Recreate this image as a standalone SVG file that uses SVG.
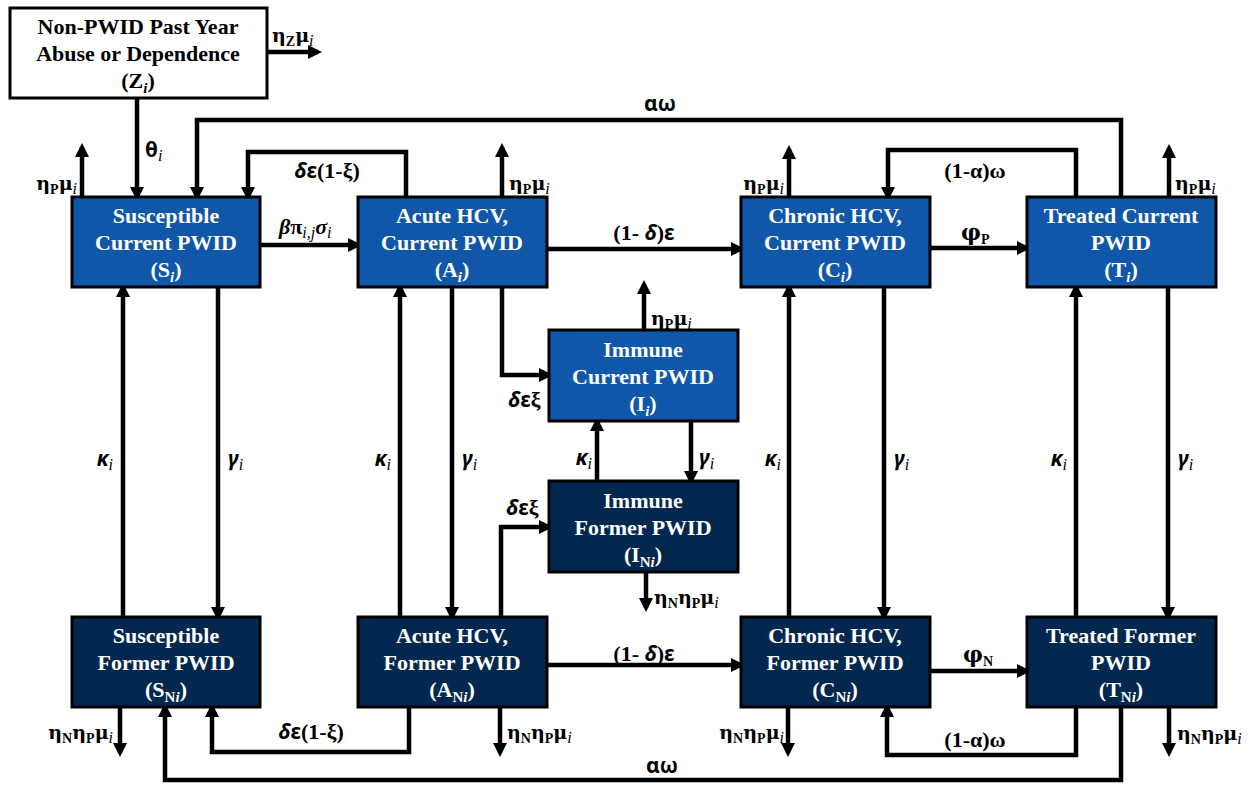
<svg xmlns="http://www.w3.org/2000/svg" width="1253" height="785" viewBox="0 0 1253 785">
<style>
.box{stroke:#000;stroke-width:3}
.cur{fill:#1057A9}
.fmr{fill:#03284F}
.nz{fill:#fff}
.bx{font-family:"Liberation Serif",serif;font-weight:bold;font-size:22px;fill:#fff;text-anchor:middle}
.bz{fill:#000}
.bs{font-size:15px}
.bi{font-size:15px;font-style:italic}
.ln{fill:none;stroke:#000;stroke-width:4.5;marker-end:url(#ah)}
.lb{font-family:"Liberation Serif",serif;font-weight:bold;font-size:22px;fill:#000}
.dv{font-family:"DejaVu Serif","Liberation Serif",serif;font-size:19px}
.ph{font-family:"DejaVu Serif","Liberation Serif",serif;font-size:22px}
.gs{font-family:"Noto Sans","DejaVu Sans",sans-serif;font-weight:bold;font-size:21px}
.it{font-style:italic}
.s{font-size:14px}
.si{font-size:16px;font-style:italic;font-weight:normal}
.m{text-anchor:middle}
.e{text-anchor:end}
</style>
<defs>
<marker id="ah" markerUnits="userSpaceOnUse" markerWidth="14" markerHeight="14" viewBox="0 0 14 14" refX="10" refY="7" orient="auto">
<path d="M0,0 L14,7 L0,14 z" fill="#000"/>
</marker>
</defs>
<rect width="1253" height="785" fill="#fff"/>
<g id="connectors">
<path class="ln" d="M137,98 V197"/>
<path class="ln" d="M267,52 H318"/>
<path class="ln" d="M82,197 V147"/>
<path class="ln" d="M1121,197 V120 H197 V197"/>
<path class="ln" d="M406,197 V152 H248 V197"/>
<path class="ln" d="M260,245 H358"/>
<path class="ln" d="M502,197 V147"/>
<path class="ln" d="M547,249 H741"/>
<path class="ln" d="M502,287 V375 H549"/>
<path class="ln" d="M644,330 V284"/>
<path class="ln" d="M597,481 V421"/>
<path class="ln" d="M691,421 V481"/>
<path class="ln" d="M501,617 V527 H549"/>
<path class="ln" d="M646,572 V608"/>
<path class="ln" d="M789,197 V149"/>
<path class="ln" d="M1076,197 V150 H888 V197"/>
<path class="ln" d="M930,248 H1027"/>
<path class="ln" d="M1169,197 V148"/>
<path class="ln" d="M123,617 V287"/>
<path class="ln" d="M218,287 V617"/>
<path class="ln" d="M400,617 V287"/>
<path class="ln" d="M452,287 V617"/>
<path class="ln" d="M789,617 V287"/>
<path class="ln" d="M884,287 V617"/>
<path class="ln" d="M1076,617 V287"/>
<path class="ln" d="M1168,287 V617"/>
<path class="ln" d="M547,665 H741"/>
<path class="ln" d="M930,671 H1027"/>
<path class="ln" d="M120,707 V753"/>
<path class="ln" d="M409,707 V752 H212 V707"/>
<path class="ln" d="M1121,707 V780 H165 V707"/>
<path class="ln" d="M500,707 V753"/>
<path class="ln" d="M788,707 V753"/>
<path class="ln" d="M1076,707 V755 H887 V707"/>
<path class="ln" d="M1169,707 V753"/>
</g>
<g id="labels">
<text class="lb" x="272" y="42"><tspan class="dv">η</tspan><tspan class="s" dy="4">Z</tspan><tspan class="dv" dy="-4">μ</tspan><tspan class="si" dy="4">i</tspan></text>
<text class="lb" x="145" y="157"><tspan class="gs">θ</tspan><tspan class="si" dy="4">i</tspan></text>
<text class="lb e" x="77" y="190"><tspan class="dv">η</tspan><tspan class="s" dy="4">P</tspan><tspan class="dv" dy="-4">μ</tspan><tspan class="si" dy="4">i</tspan></text>
<text class="lb m gs" x="660" y="111">αω</text>
<text class="lb m" x="327" y="178"><tspan class="gs it">δ</tspan><tspan class="gs">ε</tspan>(1-ξ)</text>
<text class="lb" x="279" y="234"><tspan class="it">β</tspan>π<tspan class="si" dy="4">i,j</tspan><tspan class="it" dy="-4">σ</tspan><tspan class="si" dy="4">i</tspan></text>
<text class="lb" x="509" y="190"><tspan class="dv">η</tspan><tspan class="s" dy="4">P</tspan><tspan class="dv" dy="-4">μ</tspan><tspan class="si" dy="4">i</tspan></text>
<text class="lb m" x="644" y="240">(1- <tspan class="gs it">δ</tspan>)<tspan class="gs">ε</tspan></text>
<text class="lb" x="508" y="407"><tspan class="gs it">δ</tspan><tspan class="gs">ε</tspan>ξ</text>
<text class="lb" x="651" y="325"><tspan class="dv">η</tspan><tspan class="s" dy="4">P</tspan><tspan class="dv" dy="-4">μ</tspan><tspan class="si" dy="4">i</tspan></text>
<text class="lb e" x="592" y="465"><tspan class="gs it">κ</tspan><tspan class="si" dy="4">i</tspan></text>
<text class="lb" x="699" y="465"><tspan class="gs it">γ</tspan><tspan class="si" dy="4">i</tspan></text>
<text class="lb" x="506" y="515"><tspan class="gs it">δ</tspan><tspan class="gs">ε</tspan>ξ</text>
<text class="lb" x="654" y="604"><tspan class="dv">η</tspan><tspan class="s" dy="4">N</tspan><tspan class="dv" dy="-4">η</tspan><tspan class="s" dy="4">P</tspan><tspan class="dv" dy="-4">μ</tspan><tspan class="si" dy="4">i</tspan></text>
<text class="lb e" x="784" y="190"><tspan class="dv">η</tspan><tspan class="s" dy="4">P</tspan><tspan class="dv" dy="-4">μ</tspan><tspan class="si" dy="4">i</tspan></text>
<text class="lb m" x="975" y="178">(1-α)ω</text>
<text class="lb" x="961" y="240"><tspan class="ph">φ</tspan><tspan class="s" dy="4">P</tspan></text>
<text class="lb" x="1175" y="190"><tspan class="dv">η</tspan><tspan class="s" dy="4">P</tspan><tspan class="dv" dy="-4">μ</tspan><tspan class="si" dy="4">i</tspan></text>
<text class="lb e" x="113" y="466"><tspan class="gs it">κ</tspan><tspan class="si" dy="4">i</tspan></text>
<text class="lb" x="228" y="466"><tspan class="gs it">γ</tspan><tspan class="si" dy="4">i</tspan></text>
<text class="lb e" x="391" y="466"><tspan class="gs it">κ</tspan><tspan class="si" dy="4">i</tspan></text>
<text class="lb" x="462" y="466"><tspan class="gs it">γ</tspan><tspan class="si" dy="4">i</tspan></text>
<text class="lb e" x="781" y="466"><tspan class="gs it">κ</tspan><tspan class="si" dy="4">i</tspan></text>
<text class="lb" x="894" y="466"><tspan class="gs it">γ</tspan><tspan class="si" dy="4">i</tspan></text>
<text class="lb e" x="1067" y="466"><tspan class="gs it">κ</tspan><tspan class="si" dy="4">i</tspan></text>
<text class="lb" x="1178" y="466"><tspan class="gs it">γ</tspan><tspan class="si" dy="4">i</tspan></text>
<text class="lb m" x="644" y="661">(1- <tspan class="gs it">δ</tspan>)<tspan class="gs">ε</tspan></text>
<text class="lb" x="963" y="662"><tspan class="ph">φ</tspan><tspan class="s" dy="4">N</tspan></text>
<text class="lb e" x="113" y="739"><tspan class="dv">η</tspan><tspan class="s" dy="4">N</tspan><tspan class="dv" dy="-4">η</tspan><tspan class="s" dy="4">P</tspan><tspan class="dv" dy="-4">μ</tspan><tspan class="si" dy="4">i</tspan></text>
<text class="lb m" x="311" y="739"><tspan class="gs it">δ</tspan><tspan class="gs">ε</tspan>(1-ξ)</text>
<text class="lb m gs" x="662" y="773">αω</text>
<text class="lb" x="507" y="739"><tspan class="dv">η</tspan><tspan class="s" dy="4">N</tspan><tspan class="dv" dy="-4">η</tspan><tspan class="s" dy="4">P</tspan><tspan class="dv" dy="-4">μ</tspan><tspan class="si" dy="4">i</tspan></text>
<text class="lb e" x="784" y="739"><tspan class="dv">η</tspan><tspan class="s" dy="4">N</tspan><tspan class="dv" dy="-4">η</tspan><tspan class="s" dy="4">P</tspan><tspan class="dv" dy="-4">μ</tspan><tspan class="si" dy="4">i</tspan></text>
<text class="lb m" x="975" y="747">(1-α)ω</text>
<text class="lb" x="1177" y="740"><tspan class="dv">η</tspan><tspan class="s" dy="4">N</tspan><tspan class="dv" dy="-4">η</tspan><tspan class="s" dy="4">P</tspan><tspan class="dv" dy="-4">μ</tspan><tspan class="si" dy="4">i</tspan></text>
</g>
<g id="node-Z">
<rect class="box nz" x="10" y="8" width="257" height="90"/>
<text class="bx bz" x="138" y="34">Non-PWID Past Year</text>
<text class="bx bz" x="138" y="61">Abuse or Dependence</text>
<text class="bx bz" x="138" y="88">(Z<tspan class="bi" dy="5">i</tspan><tspan dy="-5">)</tspan></text>
</g>
<g id="node-S">
<rect class="box cur" x="72" y="197" width="188" height="90"/>
<text class="bx" x="166" y="223">Susceptible</text>
<text class="bx" x="166" y="250">Current PWID</text>
<text class="bx" x="166" y="277">(S<tspan class="bi" dy="5">i</tspan><tspan dy="-5">)</tspan></text>
</g>
<g id="node-A">
<rect class="box cur" x="358" y="197" width="189" height="90"/>
<text class="bx" x="452" y="223">Acute HCV,</text>
<text class="bx" x="452" y="250">Current PWID</text>
<text class="bx" x="452" y="277">(A<tspan class="bi" dy="5">i</tspan><tspan dy="-5">)</tspan></text>
</g>
<g id="node-C">
<rect class="box cur" x="741" y="197" width="189" height="90"/>
<text class="bx" x="835" y="223">Chronic HCV,</text>
<text class="bx" x="835" y="250">Current PWID</text>
<text class="bx" x="835" y="277">(C<tspan class="bi" dy="5">i</tspan><tspan dy="-5">)</tspan></text>
</g>
<g id="node-T">
<rect class="box cur" x="1027" y="197" width="189" height="90"/>
<text class="bx" x="1121" y="223">Treated Current</text>
<text class="bx" x="1121" y="250">PWID</text>
<text class="bx" x="1121" y="277">(T<tspan class="bi" dy="5">i</tspan><tspan dy="-5">)</tspan></text>
</g>
<g id="node-I">
<rect class="box cur" x="549" y="330" width="189" height="91"/>
<text class="bx" x="643" y="357">Immune</text>
<text class="bx" x="643" y="384">Current PWID</text>
<text class="bx" x="643" y="411">(I<tspan class="bi" dy="5">i</tspan><tspan dy="-5">)</tspan></text>
</g>
<g id="node-IN">
<rect class="box fmr" x="549" y="481" width="189" height="91"/>
<text class="bx" x="643" y="508">Immune</text>
<text class="bx" x="643" y="535">Former PWID</text>
<text class="bx" x="643" y="562">(I<tspan class="bs" dy="5">N</tspan><tspan class="bi">i</tspan><tspan dy="-5">)</tspan></text>
</g>
<g id="node-SN">
<rect class="box fmr" x="72" y="617" width="188" height="90"/>
<text class="bx" x="166" y="643">Susceptible</text>
<text class="bx" x="166" y="670">Former PWID</text>
<text class="bx" x="166" y="697">(S<tspan class="bs" dy="5">N</tspan><tspan class="bi">i</tspan><tspan dy="-5">)</tspan></text>
</g>
<g id="node-AN">
<rect class="box fmr" x="358" y="617" width="189" height="90"/>
<text class="bx" x="452" y="643">Acute HCV,</text>
<text class="bx" x="452" y="670">Former PWID</text>
<text class="bx" x="452" y="697">(A<tspan class="bs" dy="5">N</tspan><tspan class="bi">i</tspan><tspan dy="-5">)</tspan></text>
</g>
<g id="node-CN">
<rect class="box fmr" x="741" y="617" width="189" height="90"/>
<text class="bx" x="835" y="643">Chronic HCV,</text>
<text class="bx" x="835" y="670">Former PWID</text>
<text class="bx" x="835" y="697">(C<tspan class="bs" dy="5">N</tspan><tspan class="bi">i</tspan><tspan dy="-5">)</tspan></text>
</g>
<g id="node-TN">
<rect class="box fmr" x="1027" y="617" width="189" height="90"/>
<text class="bx" x="1121" y="643">Treated Former</text>
<text class="bx" x="1121" y="670">PWID</text>
<text class="bx" x="1121" y="697">(T<tspan class="bs" dy="5">N</tspan><tspan class="bi">i</tspan><tspan dy="-5">)</tspan></text>
</g>
</svg>
